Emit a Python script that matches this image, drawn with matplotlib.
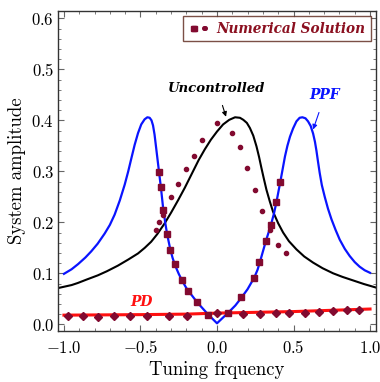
import matplotlib
matplotlib.use("Agg")
import matplotlib.pyplot as plt
from matplotlib.lines import Line2D
from matplotlib.legend_handler import HandlerTuple
from matplotlib.ticker import FixedLocator, MultipleLocator, FuncFormatter

plt.rcParams['mathtext.fontset'] = 'cm'

# uncontrolled response
unc_x = [-1.04, -0.95, -0.91, -0.85, -0.779, -0.72, -0.648, -0.58, -0.516, -0.472,
         -0.43, -0.39, -0.342, -0.30, -0.253, -0.21, -0.17, -0.12, -0.08, -0.04,
         0.0, 0.04, 0.08, 0.118, 0.15, 0.172, 0.195, 0.215, 0.237, 0.258, 0.275,
         0.29, 0.305, 0.323, 0.345, 0.366, 0.40, 0.432, 0.47, 0.519, 0.57, 0.628,
         0.69, 0.759, 0.82, 0.89, 0.96, 1.04]
unc_y = [0.071, 0.077, 0.081, 0.088, 0.096, 0.104, 0.115, 0.127, 0.139, 0.150,
         0.162, 0.177, 0.198, 0.219, 0.244, 0.268, 0.292, 0.322, 0.343, 0.362,
         0.378, 0.392, 0.401, 0.406, 0.405, 0.401, 0.395, 0.385, 0.370, 0.349, 0.328,
         0.307, 0.287, 0.264, 0.241, 0.221, 0.198, 0.180, 0.163, 0.147, 0.133, 0.121,
         0.110, 0.100, 0.093, 0.086, 0.079, 0.072]

# PPF controller response
ppf_x = [-1.0, -0.95, -0.908, -0.86, -0.822, -0.78, -0.734, -0.70, -0.669, -0.635,
         -0.603, -0.58, -0.56, -0.538, -0.516, -0.495, -0.473, -0.455, -0.44, -0.428,
         -0.418, -0.408, -0.398, -0.388, -0.378, -0.366, -0.352, -0.338, -0.326, -0.306,
         -0.29, -0.273, -0.25, -0.227, -0.2, -0.17, -0.129, -0.09, -0.057, -0.03, 0.0,
         0.035, 0.074, 0.12, 0.159, 0.2, 0.244, 0.265, 0.285, 0.303, 0.32, 0.338,
         0.355, 0.372, 0.388, 0.40, 0.414, 0.43, 0.444, 0.46, 0.477, 0.497, 0.519,
         0.54, 0.558, 0.578, 0.595, 0.612, 0.628, 0.64, 0.65, 0.66, 0.671, 0.685,
         0.704, 0.725, 0.748, 0.775, 0.802, 0.835, 0.867, 0.90, 0.932, 0.965, 1.0]
ppf_y = [0.099, 0.108, 0.118, 0.131, 0.143, 0.158, 0.178, 0.195, 0.215, 0.243,
         0.274, 0.300, 0.325, 0.352, 0.375, 0.392, 0.402, 0.406, 0.405, 0.400,
         0.390, 0.372, 0.347, 0.322, 0.297, 0.267, 0.228, 0.199, 0.177, 0.148,
         0.130, 0.115, 0.099, 0.085, 0.071, 0.059, 0.043, 0.030, 0.019, 0.011, 0.002,
         0.012, 0.023, 0.037, 0.052, 0.069, 0.092, 0.107, 0.127, 0.146, 0.164, 0.181,
         0.198, 0.217, 0.239, 0.258, 0.280, 0.306, 0.329, 0.350, 0.368, 0.384, 0.398,
         0.405, 0.406, 0.404, 0.398, 0.389, 0.374, 0.358, 0.340, 0.319, 0.297, 0.273,
         0.250, 0.227, 0.206, 0.185, 0.166, 0.148, 0.134, 0.122, 0.113, 0.106, 0.101]

# PD controller response
pd_x = [-1.0, -0.5, -0.2, 0.0, 0.5, 1.0]
pd_y = [0.018, 0.019, 0.020, 0.022, 0.025, 0.030]

# numerical solution: stable PPF branch, unstable branch, PD
num_sq_x = [-0.378, -0.366, -0.352, -0.326, -0.306, -0.273, -0.227, -0.188, -0.129,
            -0.057, 0.074, 0.159, 0.244, 0.277, 0.32, 0.355, 0.388, 0.414]
num_sq_y = [0.299, 0.269, 0.225, 0.178, 0.146, 0.118, 0.087, 0.065, 0.043,
            0.018, 0.022, 0.053, 0.090, 0.122, 0.163, 0.194, 0.239, 0.280]
num_dot_x = [-0.398, -0.376, -0.353, -0.302, -0.254, -0.202, -0.15, -0.1, 0.0,
             0.096, 0.148, 0.199, 0.249, 0.297, 0.347, 0.397, 0.45]
num_dot_y = [0.184, 0.201, 0.214, 0.250, 0.275, 0.305, 0.331, 0.361, 0.394,
             0.376, 0.348, 0.307, 0.263, 0.222, 0.185, 0.156, 0.139]
num_pd_x = [-0.972, -0.878, -0.78, -0.674, -0.569, -0.46, -0.315, -0.195, 0.0,
            0.172, 0.281, 0.386, 0.473, 0.575, 0.669, 0.756, 0.847, 0.93]
num_pd_y = [0.017, 0.016, 0.014, 0.017, 0.017, 0.016, 0.017, 0.017, 0.022,
            0.020, 0.020, 0.023, 0.023, 0.023, 0.024, 0.027, 0.028, 0.029]

xticks = [-1.0, -0.5, 0.0, 0.5, 1.0]
yticks = [0.0, 0.1, 0.2, 0.3, 0.4, 0.5, 0.6]

mcol = '#820a30'
blue = '#0a14ff'
red = '#ff1010'
bold_it = dict(family='DejaVu Serif', weight='bold', style='italic')

fig = plt.figure(figsize=(3.8, 3.82), dpi=100)
ax = fig.add_axes([0.1534, 0.1343, 0.8361, 0.8377])

ax.plot(unc_x, unc_y, color='black', lw=1.5)
ax.plot(ppf_x, ppf_y, color=blue, lw=1.6)
ax.plot(pd_x, pd_y, color=red, lw=2.2)
ax.plot(num_sq_x, num_sq_y, ls='none', marker='s', ms=4.8, color=mcol)
ax.plot(num_dot_x, num_dot_y, ls='none', marker='o', ms=3, color=mcol)
ax.plot(num_pd_x, num_pd_y, ls='none', marker='D', ms=4, color=mcol)

ax.set_xlim(-1.037, 1.039)
ax.set_ylim(-0.0125, 0.615)

ax.xaxis.set_major_locator(FixedLocator(xticks))
ax.yaxis.set_major_locator(FixedLocator(yticks))
ax.xaxis.set_minor_locator(MultipleLocator(0.1))
ax.yaxis.set_minor_locator(MultipleLocator(0.02))
fmt = FuncFormatter(lambda v, p: '$%.1f$' % v)
ax.xaxis.set_major_formatter(fmt)
ax.yaxis.set_major_formatter(fmt)
ax.tick_params(which='both', direction='in', top=True, right=True, color='#666666', labelsize=12)
ax.tick_params(which='major', length=4.5, width=0.8)
ax.tick_params(which='minor', length=2.5, width=0.6)
ax.tick_params(axis='x', pad=6)
ax.tick_params(axis='y', pad=3)
for s in ax.spines.values():
    s.set_color('#333333')
    s.set_linewidth(1.0)

ax.set_xlabel('Tuning frquency', family='cmr10', fontsize=13.5, labelpad=3)
ax.set_ylabel('System amplitude', family='cmr10', fontsize=13.5, labelpad=4)

# curve labels
ax.annotate('Uncontrolled', xy=(0.059, 0.407), xytext=(0.0, 0.463), ha='center', va='center',
            fontsize=9.5, color='black',
            arrowprops=dict(arrowstyle='-|>', color='black', lw=0.8, mutation_scale=7,
                            shrinkA=6, shrinkB=0),
            **bold_it)
ax.annotate('PPF', xy=(0.628, 0.382), xytext=(0.706, 0.450), ha='center', va='center',
            fontsize=10, color=blue,
            arrowprops=dict(arrowstyle='-|>', color=blue, lw=0.8, mutation_scale=7,
                            shrinkA=6, shrinkB=0),
            **bold_it)
ax.text(-0.495, 0.043, 'PD', ha='center', va='center', fontsize=10, color=red, **bold_it)

h_sq = Line2D([], [], ls='none', marker='s', ms=3.6, color=mcol)
h_dot = Line2D([], [], ls='none', marker='o', ms=2.6, color=mcol)
leg = ax.legend([(h_sq, h_dot)], ['Numerical Solution'], loc='upper right',
                handler_map={tuple: HandlerTuple(ndivide=None, pad=0.1)}, numpoints=2,
                handlelength=1.5, handletextpad=0.5, borderpad=0.4, borderaxespad=0.4,
                fancybox=False, edgecolor='#5a2418', labelcolor='#8b1020',
                prop=dict(family='DejaVu Serif', weight='bold', style='italic', size=9.8))
leg.get_frame().set_linewidth(1.0)

fig.savefig('out.png', dpi=100)
